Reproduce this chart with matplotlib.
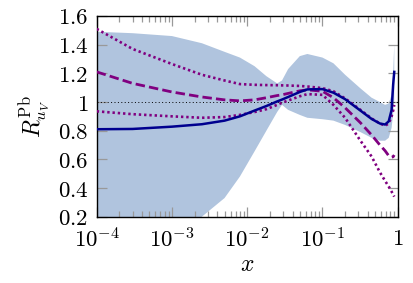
import numpy as np
import matplotlib
matplotlib.use("Agg")
import matplotlib.pyplot as plt
from matplotlib.ticker import FixedLocator, LogLocator, NullFormatter, FuncFormatter

plt.rcParams['mathtext.fontset'] = 'cm'
plt.rcParams['font.family'] = 'serif'
plt.rcParams['font.serif'] = ['DejaVu Serif']

# x grid
x = [1e-4, 3e-4, 1e-3, 2.5e-3, 5e-3, 8e-3, 0.0125, 0.018, 0.025, 0.029, 0.035,
     0.05, 0.063, 0.1, 0.14, 0.2, 0.32, 0.45, 0.58, 0.68, 0.76, 0.83, 0.87, 0.9]

# uncertainty band
band_hi = [1.49, 1.48, 1.46, 1.41, 1.35, 1.31, 1.25, 1.18, 1.13, 1.15, 1.23,
           1.32, 1.335, 1.31, 1.27, 1.19, 1.095, 1.03, 1.0, 0.98, 0.99, 1.05, 1.2, 1.4]
band_lo = [-0.5, -0.3, -0.05, 0.2, 0.33, 0.48, 0.655, 0.80, 0.93, 0.98, 0.945,
           0.91, 0.89, 0.88, 0.87, 0.84, 0.79, 0.75, 0.73, 0.73, 0.75, 0.82, 0.92, 1.0]

# central fit
central = [0.81, 0.812, 0.828, 0.845, 0.87, 0.90, 0.94, 0.972, 1.004, 1.017, 1.035,
           1.07, 1.088, 1.09, 1.065, 1.02, 0.94, 0.882, 0.85, 0.843, 0.865, 0.945, 1.12, 1.21]

# comparison curves
dashed = [1.21, 1.13, 1.07, 1.035, 1.015, 1.008, 1.015, 1.03, 1.045, 1.05, 1.06,
          1.078, 1.085, 1.075, 1.03, 0.96, 0.855, 0.77, 0.70, 0.66, 0.625, 0.615, 0.618, 0.63]
dot_hi = [1.51, 1.37, 1.265, 1.19, 1.15, 1.125, 1.12, 1.118, 1.117, 1.116, 1.115,
          1.112, 1.108, 1.097, 1.075, 1.025, 0.945, 0.885, 0.85, 0.835, 0.85, 0.9, 0.94, 0.98]
dot_lo = [0.935, 0.915, 0.9, 0.89, 0.895, 0.91, 0.93, 0.95, 0.98, 0.995, 1.01,
          1.04, 1.055, 1.05, 0.98, 0.89, 0.73, 0.62, 0.51, 0.45, 0.41, 0.375, 0.355, 0.34]

yticks = [0.2, 0.4, 0.6, 0.8, 1.0, 1.2, 1.4, 1.6]

fig = plt.figure(figsize=(4.14, 2.83), dpi=100)
ax = fig.add_axes([0.2336, 0.2343, 0.7270, 0.7092])

ax.fill_between(x, band_lo, band_hi, color='#B0C4DE', lw=0, zorder=1)
ax.axhline(1.0, color='black', lw=0.7, ls=(0, (1, 2.5)), zorder=2)
ax.plot(x, central, color='#00008F', lw=1.8, zorder=4)
ax.plot(x, dashed, color='#800080', lw=2.0, ls=(0, (3.4, 1.5)), zorder=3)
ax.plot(x, dot_hi, color='#800080', lw=1.9, ls=(0, (0.9, 1.1)), zorder=3)
ax.plot(x, dot_lo, color='#800080', lw=1.9, ls=(0, (0.9, 1.1)), zorder=3)

ax.set_xscale('log')
ax.set_xlim(1e-4, 1)
ax.set_ylim(0.2, 1.6)

ax.xaxis.set_major_locator(FixedLocator([1e-4, 1e-3, 1e-2, 1e-1, 1]))
ax.xaxis.set_major_formatter(FuncFormatter(
    lambda v, p: '$1$' if v == 1 else r'$10^{%d}$' % round(np.log10(v))))
ax.xaxis.set_minor_locator(LogLocator(base=10, subs=np.arange(2, 10), numticks=20))
ax.xaxis.set_minor_formatter(NullFormatter())
ax.yaxis.set_major_locator(FixedLocator(yticks))
ax.yaxis.set_major_formatter(FuncFormatter(lambda v, p: '$%g$' % v))

ax.tick_params(which='both', direction='in', top=True, right=True, color='#999999',
               width=0.9, labelsize=16.5)
ax.tick_params(which='major', length=7.2)
ax.tick_params(which='minor', length=4.5)
ax.tick_params(axis='x', pad=8.5)
ax.tick_params(axis='y', pad=6)
for s in ax.spines.values():
    s.set_linewidth(1.0)

ax.set_xlabel('$x$', fontsize=17, labelpad=0)
ax.set_ylabel(r'$R_{u_V}^{\mathrm{Pb}}$', fontsize=17, labelpad=4)

fig.savefig('out.png', dpi=100)
